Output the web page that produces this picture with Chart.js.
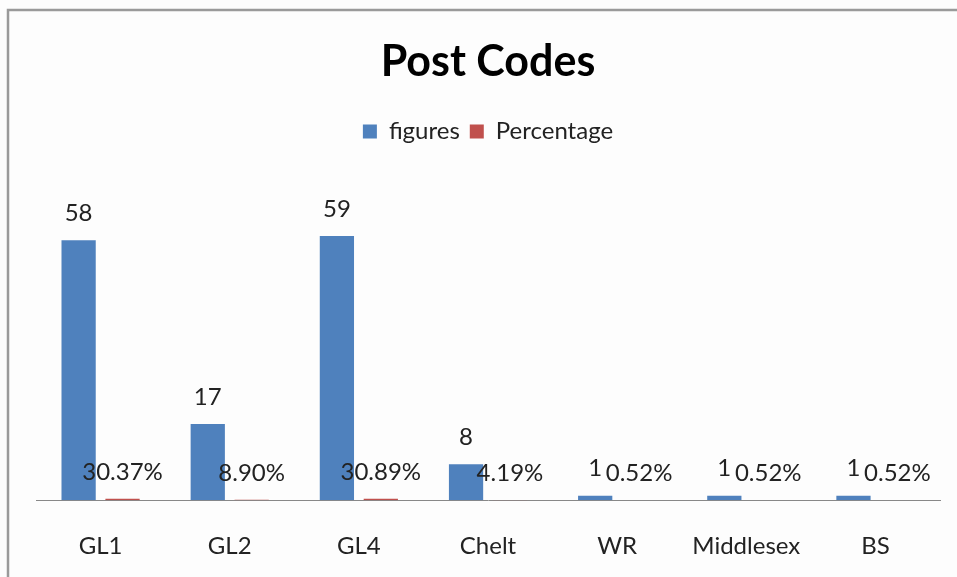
<!DOCTYPE html>
<html><head><meta charset="utf-8">
<script src="https://cdn.jsdelivr.net/npm/chart.js@4"></script>
<style>html,body{margin:0;padding:0;background:#fff}#wrap{width:957px;height:577px;position:relative}</style>
</head><body><div id="wrap"><canvas id="c" width="957" height="577"></canvas></div>
<script>
const categories = ['GL1', 'GL2', 'GL4', 'Chelt', 'WR', 'Middlesex', 'BS'];
const figures = [58, 17, 59, 8, 1, 1, 1];
const percentage = [0.3037, 0.0890, 0.3089, 0.0419, 0.0052, 0.0052, 0.0052];
const seriesNames = ['figures', 'Percentage'];
const titleText = 'Post Codes';

const FONT = 'Lato, "Noto Sans", sans-serif';

const framePlugin = {
  id: 'frame',
  beforeInit(chart) {
    const lg = chart.legend;
    if (lg) {
      const fit = lg.fit;
      lg.fit = function () { fit.call(this); this.height += 33; };
    }
  },
  beforeDraw(chart) {
    const ctx = chart.ctx;
    ctx.save();
    ctx.fillStyle = '#fdfdfd';
    ctx.fillRect(0, 0, chart.width, chart.height);
    ctx.strokeStyle = '#9a9a9a';
    ctx.lineWidth = 2.5;
    ctx.beginPath();
    ctx.moveTo(8, chart.height);
    ctx.lineTo(8, 10);
    ctx.lineTo(chart.width, 10);
    ctx.stroke();
    ctx.restore();
  }
};

const labelPlugin = {
  id: 'valueLabels',
  afterDatasetsDraw(chart) {
    const ctx = chart.ctx;
    ctx.save();
    ctx.font = '24px ' + FONT;
    ctx.fillStyle = '#222';
    ctx.textAlign = 'center';
    ctx.textBaseline = 'middle';
    chart.data.datasets.forEach((ds, di) => {
      const meta = chart.getDatasetMeta(di);
      meta.data.forEach((bar, i) => {
        const v = ds.data[i];
        const txt = di === 0 ? String(v) : (v * 100).toFixed(2) + '%';
        ctx.fillText(txt, bar.x, bar.y - 27);
      });
    });
    ctx.restore();
  }
};

new Chart(document.getElementById('c'), {
  type: 'bar',
  data: {
    labels: categories,
    datasets: [
      { label: seriesNames[0], data: figures, backgroundColor: '#4F81BD', categoryPercentage: 0.68, barPercentage: 0.78 },
      { label: seriesNames[1], data: percentage, backgroundColor: '#C0504D', categoryPercentage: 0.68, barPercentage: 0.78 }
    ]
  },
  options: {
    responsive: false,
    animation: false,
    layout: { padding: { left: 36, right: 17, top: 10, bottom: -16 } },
    plugins: {
      title: {
        display: true, text: titleText, color: '#000',
        font: { family: FONT, size: 43, weight: 'bold', lineHeight: 1.2 },
        padding: { top: 26, bottom: 22 }
      },
      legend: {
        display: true, position: 'top',
        labels: {
          color: '#222', boxWidth: 14, boxHeight: 14, padding: 10,
          font: { family: FONT, size: 24 }
        }
      },
      tooltip: { enabled: false }
    },
    scales: {
      x: {
        grid: { display: false, drawTicks: false },
        border: { display: true, color: '#888', width: 1 },
        ticks: { color: '#222', padding: 32, font: { family: FONT, size: 24 } }
      },
      y: { display: false, min: 0, max: 70 }
    }
  },
  plugins: [framePlugin, labelPlugin]
});
</script>
</body></html>
